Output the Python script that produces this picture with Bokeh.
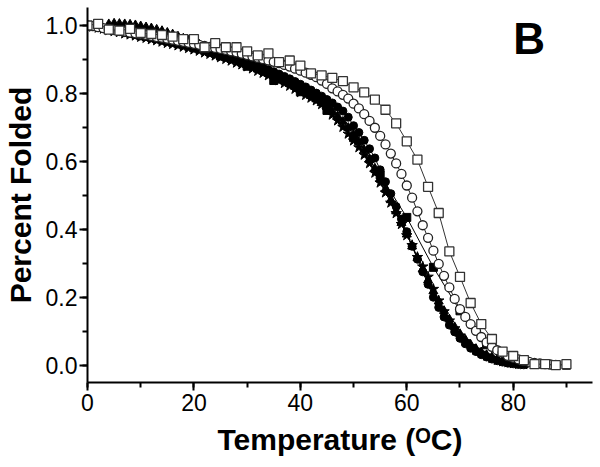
from bokeh.plotting import figure
from bokeh.models import Label, SingleIntervalTicker, PrintfTickFormatter, Range1d
from bokeh.embed import file_html
from bokeh.resources import INLINE

# ---------------- data ----------------
open_sq_T = [0, 2, 4, 6, 8, 10, 12, 14, 16, 18, 20, 22, 24, 26, 28, 30, 32, 34, 36, 38,
             40, 42, 44, 46, 48, 50, 52, 54, 56, 58, 60, 62, 64, 66, 68, 70, 72, 74, 76, 78,
             80, 82, 84, 86, 88, 90]
open_sq_F = [1.000, 1.005, 0.988, 0.985, 0.990, 0.978, 0.975, 0.972, 0.967, 0.960,
             0.960, 0.936, 0.948, 0.936, 0.936, 0.924, 0.912, 0.918, 0.892, 0.897,
             0.882, 0.859, 0.853, 0.846, 0.836, 0.818, 0.803, 0.782, 0.752, 0.712,
             0.659, 0.605, 0.525, 0.448, 0.335, 0.260, 0.183, 0.121, 0.077, 0.040,
             0.027, 0.015, 0.003, 0.003, 0.000, 0.003]

open_ci_T = [0, 1, 2, 3, 4, 5, 6, 7, 8, 9, 10, 11, 12, 13, 14, 15, 16, 17, 18, 19,
             20, 21, 22, 23, 24, 25, 26, 27, 28, 29, 30, 31, 32, 33, 34, 35, 36, 37, 38, 39,
             40, 41, 42, 43, 44, 45, 46, 47, 48, 49, 50, 51, 52, 53, 54, 55, 56, 57, 58, 59,
             60, 61, 62, 63, 64, 65, 66, 67, 68, 69, 70, 71, 72, 73, 74, 75, 76, 77, 78, 79,
             80, 81, 82, 83, 84, 85, 86, 87, 88]
open_ci_F = [1.000, 0.998, 0.995, 0.992, 0.990, 0.987, 0.984, 0.982, 0.979, 0.977,
             0.974, 0.972, 0.969, 0.966, 0.964, 0.961, 0.958, 0.955, 0.952, 0.949,
             0.946, 0.943, 0.940, 0.937, 0.934, 0.931, 0.928, 0.924, 0.921, 0.917,
             0.913, 0.909, 0.905, 0.901, 0.897, 0.893, 0.889, 0.884, 0.879, 0.873,
             0.867, 0.861, 0.855, 0.848, 0.838, 0.828, 0.815, 0.806, 0.796, 0.785,
             0.770, 0.756, 0.739, 0.719, 0.699, 0.675, 0.650, 0.623, 0.594, 0.563,
             0.529, 0.493, 0.453, 0.412, 0.375, 0.337, 0.298, 0.263, 0.229, 0.195,
             0.165, 0.142, 0.121, 0.101, 0.083, 0.067, 0.054, 0.044, 0.037, 0.027,
             0.022, 0.017, 0.013, 0.010, 0.007, 0.005, 0.003, 0.002, 0.001]

filled_ci_T = [0, 1, 2, 3, 4, 5, 6, 7, 8, 9, 10, 11, 12, 13, 14, 15, 16, 17, 18, 19,
               20, 21, 22, 23, 24, 25, 26, 27, 28, 29, 30, 31, 32, 33, 34, 35, 36, 37, 38, 39,
               40, 41, 42, 43, 44, 45, 46, 47, 48, 49, 50, 51, 52, 53, 54, 55, 56, 57, 58, 59,
               60, 61, 62, 63, 64, 65, 66, 67, 68, 69, 70, 71, 72, 73, 74, 75, 76, 77, 78, 79,
               80, 81, 82]
filled_ci_F = [1.000, 0.997, 0.994, 0.991, 0.988, 0.985, 0.982, 0.979, 0.976, 0.973,
               0.970, 0.967, 0.964, 0.961, 0.958, 0.955, 0.951, 0.948, 0.944, 0.941,
               0.937, 0.933, 0.929, 0.925, 0.921, 0.917, 0.912, 0.908, 0.903, 0.898,
               0.893, 0.888, 0.882, 0.876, 0.870, 0.864, 0.857, 0.850, 0.843, 0.835,
               0.827, 0.819, 0.810, 0.801, 0.792, 0.782, 0.772, 0.760, 0.748, 0.730,
               0.705, 0.685, 0.662, 0.637, 0.610, 0.575, 0.540, 0.505, 0.467, 0.430,
               0.393, 0.350, 0.312, 0.275, 0.238, 0.200, 0.170, 0.142, 0.118, 0.098,
               0.079, 0.063, 0.050, 0.040, 0.031, 0.024, 0.018, 0.013, 0.009, 0.006,
               0.004, 0.002, 0.001]

star_T = [0, 1, 2, 3, 4, 5, 6, 7, 8, 9, 10, 11, 12, 13, 14, 15, 16, 17, 18, 19,
          20, 21, 22, 23, 24, 25, 26, 27, 28, 29, 30, 31, 32, 33, 34, 35, 36, 37, 38, 39,
          40, 41, 42, 43, 44, 45, 46, 47, 48, 49, 50, 51, 52, 53, 54, 55, 56, 57, 58, 59,
          60, 61, 62, 63, 64, 65, 66, 67, 68, 69, 70, 71, 72, 73, 74, 75, 76, 77, 78, 79,
          80, 81, 82]
star_F = [1.000, 0.996, 0.993, 0.990, 0.986, 0.983, 0.980, 0.976, 0.973, 0.970,
          0.966, 0.963, 0.959, 0.956, 0.952, 0.948, 0.945, 0.941, 0.937, 0.933,
          0.929, 0.925, 0.920, 0.916, 0.911, 0.906, 0.901, 0.896, 0.890, 0.885,
          0.879, 0.873, 0.866, 0.860, 0.853, 0.846, 0.838, 0.830, 0.822, 0.813,
          0.803, 0.795, 0.787, 0.779, 0.768, 0.752, 0.737, 0.720, 0.701, 0.681,
          0.661, 0.641, 0.619, 0.594, 0.566, 0.537, 0.508, 0.478, 0.447, 0.415,
          0.382, 0.353, 0.318, 0.290, 0.260, 0.224, 0.190, 0.158, 0.131, 0.108,
          0.087, 0.070, 0.056, 0.045, 0.036, 0.028, 0.021, 0.015, 0.011, 0.008,
          0.005, 0.003, 0.002]

tri_T = [4, 5, 6, 7, 8, 9, 10, 11, 12, 13, 14, 15, 16, 17, 18, 19,
         20, 21, 22, 23, 24, 25, 26, 27, 28, 29, 30, 31, 32, 33, 34, 35, 36, 37, 38, 39,
         40, 41, 42, 43, 44, 45, 46, 47, 48, 49, 50, 51, 52, 53, 54, 55, 56, 57, 58, 59,
         60, 61, 62, 63, 64, 65, 66, 67, 68, 69, 70, 71, 72, 73, 74, 75, 76, 77, 78, 79,
         80, 81, 82]
tri_F = [1.004, 1.006, 1.005, 1.004, 1.003, 1.001, 0.998, 0.995, 0.992, 0.988,
         0.984, 0.979, 0.974, 0.968, 0.962, 0.956, 0.950, 0.944, 0.937, 0.931,
         0.925, 0.918, 0.912, 0.905, 0.898, 0.891, 0.884, 0.878, 0.871, 0.865,
         0.858, 0.851, 0.844, 0.836, 0.828, 0.820, 0.811, 0.802, 0.793, 0.783,
         0.772, 0.760, 0.747, 0.733, 0.717, 0.699, 0.679, 0.657, 0.633, 0.607,
         0.579, 0.549, 0.518, 0.486, 0.453, 0.419, 0.385, 0.350, 0.316, 0.283,
         0.250, 0.218, 0.188, 0.160, 0.135, 0.112, 0.092, 0.075, 0.060, 0.048,
         0.038, 0.030, 0.023, 0.017, 0.012, 0.008, 0.005, 0.003, 0.001]

filled_sq_T = [0, 5, 10, 15, 20, 25, 30, 35, 40, 45, 50, 55, 60, 65, 70, 75, 80, 85, 90]
filled_sq_F = [1.000, 0.985, 0.970, 0.955, 0.935, 0.910, 0.880, 0.838, 0.805, 0.750,
               0.670, 0.560, 0.435, 0.288, 0.160, 0.060, 0.020, 0.005, 0.000]

x_label = "Temperature (\u1D3CC)"
y_label = "Percent Folded"
panel_letter = "B"

# ---------------- figure ----------------
p = figure(width=598, height=467, output_backend="svg", toolbar_location=None,
           x_range=Range1d(0, 94.9), y_range=Range1d(-0.051, 1.053),
           min_border_left=87, min_border_right=6, min_border_top=7, min_border_bottom=85)
p.outline_line_color = None
p.xgrid.visible = False
p.ygrid.visible = False
p.background_fill_color = "white"

FONT = "Liberation Sans"

for ax in (p.xaxis[0], p.yaxis[0]):
    ax.axis_line_width = 2
    ax.axis_line_color = "black"
    ax.major_tick_line_width = 2
    ax.minor_tick_line_width = 2
    ax.major_tick_line_color = "black"
    ax.minor_tick_line_color = "black"
    ax.major_tick_out = 8
    ax.major_tick_in = 0
    ax.minor_tick_out = 5
    ax.minor_tick_in = 0
    ax.major_label_text_font = FONT
    ax.major_label_text_font_size = "23px"
    ax.major_label_text_color = "black"
    ax.axis_label_text_font = FONT
    ax.axis_label_text_font_style = "bold"
    ax.axis_label_text_color = "black"

p.xaxis[0].ticker = SingleIntervalTicker(interval=20, num_minor_ticks=2)
p.yaxis[0].ticker = SingleIntervalTicker(interval=0.2, num_minor_ticks=2)
p.yaxis[0].formatter = PrintfTickFormatter(format="%.1f")
p.xaxis[0].major_label_standoff = 3
p.yaxis[0].major_label_standoff = 2

p.xaxis[0].axis_label = x_label
p.xaxis[0].axis_label_text_font_size = "30px"
p.xaxis[0].axis_label_standoff = 9
p.yaxis[0].axis_label = y_label
p.yaxis[0].axis_label_text_font_size = "30px"
p.yaxis[0].axis_label_standoff = 6

# filled series (underneath)
p.line(filled_sq_T, filled_sq_F, line_color="black", line_width=1)
p.line(star_T, star_F, line_color="black", line_width=1)
p.line(tri_T, tri_F, line_color="black", line_width=1)
p.line(filled_ci_T, filled_ci_F, line_color="black", line_width=1)
p.scatter(tri_T, tri_F, marker="triangle", size=9, fill_color="black", line_color="black")
p.scatter(star_T, star_F, marker="star", size=11, fill_color="black", line_color="black")
p.scatter(filled_ci_T, filled_ci_F, marker="circle", size=8, fill_color="black", line_color="black")
p.scatter(filled_sq_T, filled_sq_F, marker="square", size=8, fill_color="black", line_color="black")

# open circles
p.line(open_ci_T, open_ci_F, line_color="#222222", line_width=1)
p.scatter(open_ci_T, open_ci_F, marker="circle", size=9, fill_color="white",
          line_color="#222222", line_width=1.3)

# open squares
p.line(open_sq_T, open_sq_F, line_color="#333333", line_width=1)
p.scatter(open_sq_T, open_sq_F, marker="square", size=9, fill_color="white",
          line_color="#333333", line_width=1.3)

# panel letter
p.add_layout(Label(x=80.0, y=0.963, text=panel_letter, text_font=FONT, text_font_style="bold",
                   text_font_size="44px", text_baseline="alphabetic", text_align="left",
                   text_color="black"))

open("out.html", "w").write(file_html(p, INLINE))
